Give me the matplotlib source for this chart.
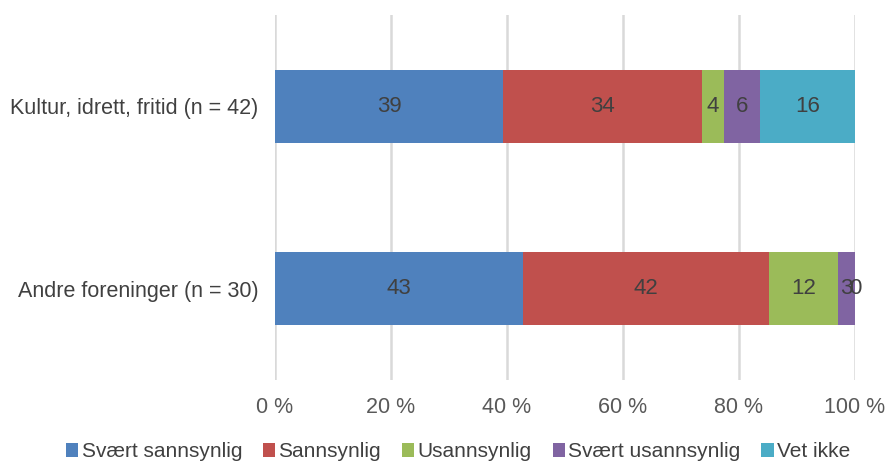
import matplotlib.pyplot as plt
import numpy as np

plt.rcParams['font.family'] = ['Liberation Sans', 'DejaVu Sans']

# data (percent)
categories = ['Andre foreninger (n = 30)', 'Kultur, idrett, fritid (n = 42)']
series_names = ['Svært sannsynlig', 'Sannsynlig', 'Usannsynlig', 'Svært usannsynlig', 'Vet ikke']
values = {
    'Svært sannsynlig': [42.8, 39.3],
    'Sannsynlig': [42.4, 34.3],
    'Usannsynlig': [11.9, 3.8],
    'Svært usannsynlig': [2.9, 6.2],
    'Vet ikke': [0.0, 16.4],
}
colors = ['#4F81BD', '#C0504D', '#9BBB59', '#8064A2', '#4BACC6']
xticks = [0, 20, 40, 60, 80, 100]

fig = plt.figure(figsize=(8.86, 4.62), dpi=100)
ax = fig.add_axes([0.3104, 0.1775, 0.965 - 0.3104, 0.79])

y = np.arange(len(categories))
left = np.zeros(len(categories))
handles = []
for name, c in zip(series_names, colors):
    v = np.array(values[name])
    b = ax.barh(y, v, left=left, height=0.4, color=c, edgecolor='none', zorder=3)
    handles.append(b)
    for yi, xi, vi in zip(y, left, v):
        ax.text(xi + vi / 2, yi, '%.0f' % vi, ha='center', va='center',
                fontsize=16, color='#404040', zorder=4)
    left += v

ax.set_xlim(0, 100)
ax.set_ylim(-0.5, 1.5)
ax.set_xticks(xticks)
ax.set_xticklabels(['%d %%' % t for t in xticks], fontsize=15.5, color='#595959')
ax.set_yticks(y)
ax.set_yticklabels(categories, fontsize=15.5, color='#404040')
ax.tick_params(length=0, pad=12)
ax.tick_params(axis='y', pad=12)
ax.grid(axis='x', color='#d9d9d9', linewidth=1.8, zorder=0)
for s in ax.spines.values():
    s.set_visible(False)

fig.legend(handles, series_names, loc='center', bbox_to_anchor=(0.517, 0.022),
           ncol=5, frameon=False, fontsize=15, handlelength=0.6, handleheight=0.6,
           handletextpad=0.15, columnspacing=1.0, labelcolor='#404040')

fig.savefig('out.png', dpi=100)
plt.close()
